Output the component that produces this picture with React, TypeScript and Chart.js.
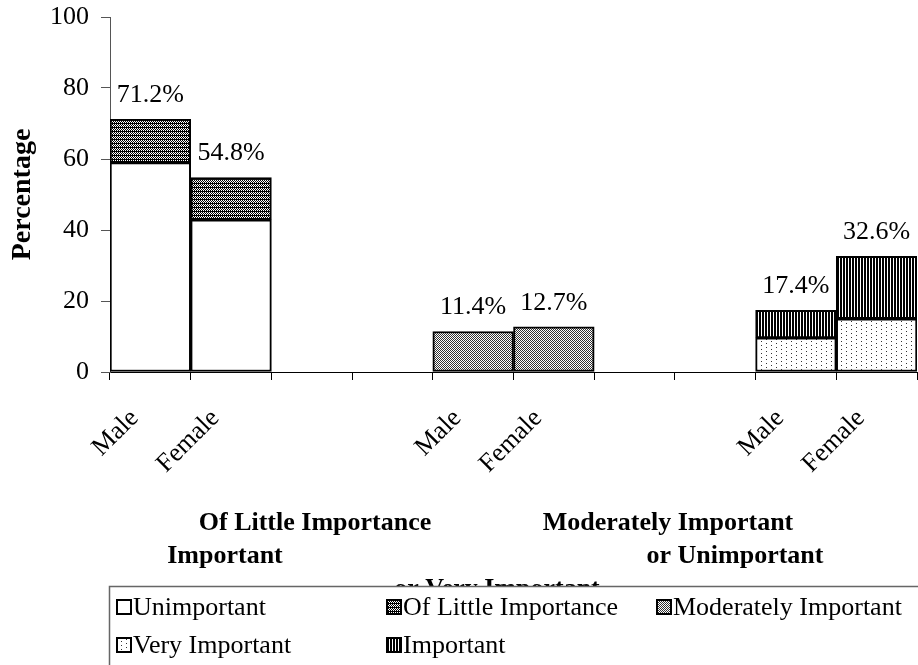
import React, { useEffect, useRef } from "react";
import { Chart, registerables } from "chart.js";

Chart.register(...registerables);

// ---------- data ----------
const categories = ["Male", "Female", "", "", "Male", "Female", "", "", "Male", "Female"];
const unimportant = [59.0, 42.9, null, null, null, null, null, null, null, null];
const littleImportance = [12.2, 11.9, null, null, null, null, null, null, null, null];
const moderatelyImportant = [null, null, null, null, 11.4, 12.7, null, null, null, null];
const veryImportant = [null, null, null, null, null, null, null, null, 9.6, 15.0];
const important = [null, null, null, null, null, null, null, null, 7.8, 17.6];
const totals = [71.2, 54.8, null, null, 11.4, 12.7, null, null, 17.4, 32.6];
const seriesNames = ["Unimportant", "Of Little Importance", "Moderately Important", "Very Important", "Important"];
const yTickValues = [0, 20, 40, 60, 80, 100];
const captionTexts = ["Of Little Importance", "Moderately Important", "Important", "or Unimportant", "or Very Important"];

const FONT = '"Liberation Serif", "Times New Roman", serif';

function makePattern(w: number, h: number, draw: (c: CanvasRenderingContext2D) => void): CanvasPattern | string {
  const cv = document.createElement("canvas");
  cv.width = w;
  cv.height = h;
  const c = cv.getContext("2d");
  if (!c) return "#fff";
  c.fillStyle = "#fff";
  c.fillRect(0, 0, w, h);
  c.fillStyle = "#000";
  draw(c);
  return c.createPattern(cv, "repeat") || "#fff";
}

function buildPatterns() {
  const white = "#ffffff";
  const little = makePattern(2, 4, (c) => {
    c.fillRect(0, 0, 1, 1);
    c.fillRect(1, 1, 1, 1);
    c.fillRect(0, 2, 1, 1);
    c.fillRect(0, 3, 2, 1);
  });
  const moderate = makePattern(2, 2, (c) => {
    c.fillStyle = "#333";
    c.fillRect(0, 0, 1, 1);
    c.fillRect(1, 1, 1, 1);
  });
  const very = makePattern(10, 8, (c) => {
    c.fillStyle = "#333";
    c.fillRect(1, 1, 1, 1);
    c.fillRect(1, 5, 1, 1);
    c.fillRect(6, 3, 1, 1);
    c.fillRect(6, 7, 1, 1);
  });
  const imp = makePattern(3, 1, (c) => {
    c.fillRect(0, 0, 2, 1);
  });
  return [white, little, moderate, very, imp];
}

export default function App() {
  const ref = useRef<HTMLCanvasElement | null>(null);

  useEffect(() => {
    if (!ref.current) return;
    const fills = buildPatterns();
    const seriesData = [unimportant, littleImportance, moderatelyImportant, veryImportant, important];

    const overlay = {
      id: "overlay",
      afterDraw(chart: any) {
        const ctx: CanvasRenderingContext2D = chart.ctx;
        const xs = chart.scales.x;
        const ys = chart.scales.y;
        ctx.save();
        ctx.fillStyle = "#000";

        // value labels
        ctx.font = `26px ${FONT}`;
        ctx.textAlign = "center";
        ctx.textBaseline = "middle";
        totals.forEach((v, i) => {
          if (v == null) return;
          ctx.fillText(`${v.toFixed(1)}%`, xs.getPixelForValue(i), ys.getPixelForValue(v) - 24);
        });

        // rotated category labels
        categories.forEach((c, i) => {
          if (!c) return;
          ctx.save();
          ctx.translate(xs.getPixelForValue(i) - 25, 405);
          ctx.rotate(-Math.PI / 4);
          ctx.textAlign = "right";
          ctx.textBaseline = "top";
          ctx.fillText(c, 0, 0);
          ctx.restore();
        });

        // group captions
        ctx.font = `bold 26px ${FONT}`;
        ctx.textAlign = "center";
        ctx.textBaseline = "middle";
        ctx.fillText(captionTexts[0], 315, 523);
        ctx.fillText(captionTexts[1], 668, 523);
        ctx.fillText(captionTexts[2], 225, 556);
        ctx.fillText(captionTexts[3], 735, 556);
        ctx.fillText(captionTexts[4], 497, 589);

        // legend box
        const lx = 109, ly = 586;
        ctx.fillStyle = "#fff";
        ctx.fillRect(lx, ly, 918 - lx, 665 - ly);
        ctx.strokeStyle = "#666";
        ctx.lineWidth = 1.5;
        ctx.strokeRect(lx + 0.5, ly + 0.5, 918 - lx + 5, 100);

        const cols = [117, 387, 657];
        const rows = [607, 645];
        ctx.font = `26px ${FONT}`;
        ctx.textAlign = "left";
        ctx.textBaseline = "middle";
        seriesNames.forEach((name, k) => {
          const col = cols[k % 3];
          const row = rows[Math.floor(k / 3)];
          ctx.fillStyle = fills[k] as any;
          ctx.fillRect(col, row - 7, 14, 14);
          ctx.strokeStyle = "#000";
          ctx.lineWidth = 2;
          ctx.strokeRect(col, row - 7, 14, 14);
          ctx.fillStyle = "#000";
          ctx.fillText(name, col + 16, row + 1);
        });
        ctx.restore();
      },
    };

    const chart = new Chart(ref.current, {
      type: "bar",
      data: {
        labels: categories,
        datasets: seriesNames.map((name, k) => ({
          label: name,
          data: seriesData[k] as any,
          backgroundColor: fills[k] as any,
          borderColor: "#000",
          borderWidth: 2,
          borderSkipped: false,
          barPercentage: 1,
          categoryPercentage: 1,
        })),
      },
      options: {
        animation: false,
        responsive: false,
        devicePixelRatio: 1,
        layout: { padding: { left: 0, right: 1, top: 17, bottom: 0 } },
        plugins: { legend: { display: false }, tooltip: { enabled: false } },
        scales: {
          x: {
            stacked: true,
            offset: true,
            grid: { offset: true, drawOnChartArea: false, drawTicks: true, tickLength: 8, color: "#000", lineWidth: 1 },
            border: { color: "#000", width: 1 },
            ticks: { display: false },
            afterFit: (s: any) => {
              s.height = 293;
              s.paddingLeft = 0;
              s.paddingRight = 0;
            },
          },
          y: {
            stacked: true,
            min: 0,
            max: 100,
            afterBuildTicks: (s: any) => {
              s.ticks = yTickValues.map((v) => ({ value: v }));
            },
            grid: { drawOnChartArea: false, drawTicks: true, tickLength: 9, color: "#555", lineWidth: 1 },
            border: { color: "#555", width: 1 },
            ticks: { color: "#000", padding: 12, font: { family: FONT, size: 26 } },
            title: { display: true, text: "Percentage", color: "#000", font: { family: FONT, size: 28, weight: "bold" }, padding: 6 },
            afterFit: (s: any) => {
              s.width = 110;
              s.paddingTop = 0;
              s.paddingBottom = 0;
            },
          },
        },
      },
      plugins: [overlay],
    });
    return () => chart.destroy();
  }, []);

  return (
    <div style={{ position: "fixed", left: 0, top: 0, width: 918, height: 665, background: "#fff" }}>
      <canvas ref={ref} width={918} height={665} style={{ display: "block", width: 918, height: 665 }} />
    </div>
  );
}
